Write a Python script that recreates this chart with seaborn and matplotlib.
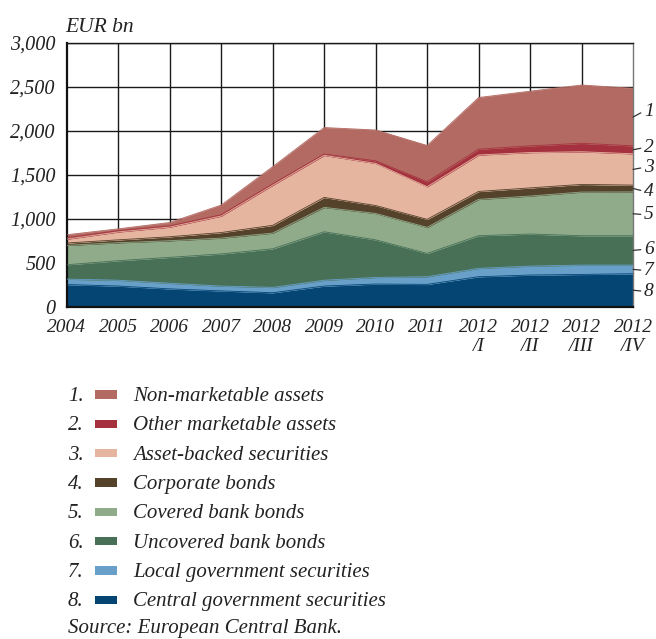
import numpy as np
import pandas as pd
import matplotlib
matplotlib.use("Agg")
import matplotlib.pyplot as plt
from matplotlib.patches import Rectangle
import seaborn as sns

# Periods on the x axis
periods = ["2004", "2005", "2006", "2007", "2008", "2009", "2010", "2011",
           "2012\n/I", "2012\n/II", "2012\n/III", "2012\n/IV"]

# Eligible collateral by asset class, EUR bn (stacked bottom to top)
central_gov = [252, 235, 203, 180, 159, 235, 258, 254, 341, 360, 367, 375]
local_gov = [62, 66, 64, 55, 61, 66, 75, 87, 95, 102, 106, 98]
uncovered_bank = [163, 222, 294, 365, 438, 551, 427, 265, 371, 364, 334, 334]
covered_bank = [220, 204, 189, 180, 179, 277, 300, 296, 413, 432, 496, 498]
corporate = [27, 33, 45, 63, 88, 113, 90, 91, 90, 92, 87, 77]
asset_backed = [44, 90, 110, 187, 455, 478, 479, 371, 414, 402, 371, 356]
other_marketable = [16, 14, 13, 15, 15, 15, 29, 56, 66, 76, 96, 90]
non_marketable = [34, 21, 39, 110, 196, 301, 350, 412, 587, 621, 662, 654]

legend_names = ["Non-marketable assets", "Other marketable assets",
                "Asset-backed securities", "Corporate bonds",
                "Covered bank bonds", "Uncovered bank bonds",
                "Local government securities", "Central government securities"]
colors = ["#b36a62", "#a5313e", "#e5b5a0", "#54422a",
          "#8fab8a", "#477057", "#68a0c9", "#054574"]

# stacking order: bottom layer first
layers = [central_gov, local_gov, uncovered_bank, covered_bank,
          corporate, asset_backed, other_marketable, non_marketable]
layer_colors = colors[::-1]
layer_names = legend_names[::-1]

sns.set_theme(style="white")
plt.rcParams["font.family"] = ["Liberation Serif", "DejaVu Serif"]
plt.rcParams["font.style"] = "italic"

fig = plt.figure(figsize=(6.56, 6.39), dpi=100)
ax = fig.add_axes([0.1017, 0.520, 0.8633, 0.4132])

x = np.arange(len(periods))
ax.stackplot(x, *layers, colors=layer_colors, linewidth=0.4,
             edgecolor="face", zorder=2)

# thin boundary lines along each layer top
cum = np.cumsum(np.array(layers, dtype=float), axis=0)
long = pd.DataFrame({
    "x": np.tile(x, len(layers)),
    "y": cum.ravel(),
    "layer": np.repeat(layer_names, len(x)),
})
sns.lineplot(data=long, x="x", y="y", hue="layer", hue_order=layer_names,
             palette=layer_colors, linewidth=0.6, legend=False, ax=ax,
             zorder=3)

ax.set_xlim(0, len(periods) - 1)
ax.set_ylim(0, 3000)
yt = np.arange(0, 3001, 500)

# grid drawn behind the filled areas
for v in yt[1:]:
    ax.axhline(v, color="#1a1a1a", lw=1.0, zorder=0.5)
for xi in x[1:-1]:
    ax.axvline(xi, color="#1a1a1a", lw=1.0, zorder=0.5)
ax.grid(False)
ax.set_axisbelow(False)

ax.set_yticks(yt)
ax.set_yticklabels([f"{v:,}" for v in yt], fontsize=14.5, style="italic")
ax.set_xticks(x)
ax.set_xticklabels(periods, fontsize=14, style="italic", linespacing=1.15,
                   va="top")
ax.tick_params(axis="y", length=0, pad=8, colors="#222222")
ax.tick_params(axis="x", direction="in", length=6, width=1, pad=9,
               color="#2a2a2a", labelcolor="#222222")
ax.set_xlabel("")
ax.set_ylabel("")

for side in ["left", "bottom"]:
    ax.spines[side].set_color("#111111")
    ax.spines[side].set_linewidth(1.6)
ax.spines["top"].set_color("#1a1a1a")
ax.spines["top"].set_linewidth(1.0)
ax.spines["right"].set_color("#777777")
ax.spines["right"].set_linewidth(1.0)

# unit label
fig.text(65 / 656, 1 - 32 / 639, "EUR bn", fontsize=15.5, style="italic",
         color="#222222", ha="left", va="baseline")

# numbered markers on the right edge
last = cum[:, -1]
mids = last - np.array(layers, dtype=float)[:, -1] / 2
label_y = [175, 413, 652, 1047, 1312, 1583, 1808, 2223]
tr = ax.get_yaxis_transform()
for i, (m, ly) in enumerate(zip(mids, label_y)):
    num = 8 - i
    ax.annotate(str(num), xy=(1.0, m), xycoords=tr,
                xytext=(1.0 + 11 / 566, ly), textcoords=tr,
                fontsize=14, style="italic", color="#222222",
                ha="left", va="center", annotation_clip=False,
                arrowprops=dict(arrowstyle="-", color="#333333", lw=0.9,
                                shrinkA=0, shrinkB=0,
                                relpos=(0.0, 0.5)))

# legend rows
W, H = 656, 639
base0 = 401.2
step = 29.3
for i, (name, col) in enumerate(zip(legend_names, colors)):
    b = base0 + step * i
    fig.text(68 / W, 1 - b / H, f"{i + 1}.", fontsize=15, style="italic",
             color="#222222", ha="left", va="baseline")
    fig.patches.append(Rectangle((95 / W, 1 - (b - 2.4) / H), 22.3 / W,
                                 8.3 / H, transform=fig.transFigure,
                                 facecolor=col, edgecolor="none"))
    fig.text(133 / W, 1 - b / H, name, fontsize=15, style="italic",
             color="#222222", ha="left", va="baseline")

fig.text(68 / W, 1 - 633.5 / H, "Source: European Central Bank.",
         fontsize=15, style="italic", color="#222222", ha="left",
         va="baseline")

fig.savefig("out.png", dpi=100)
